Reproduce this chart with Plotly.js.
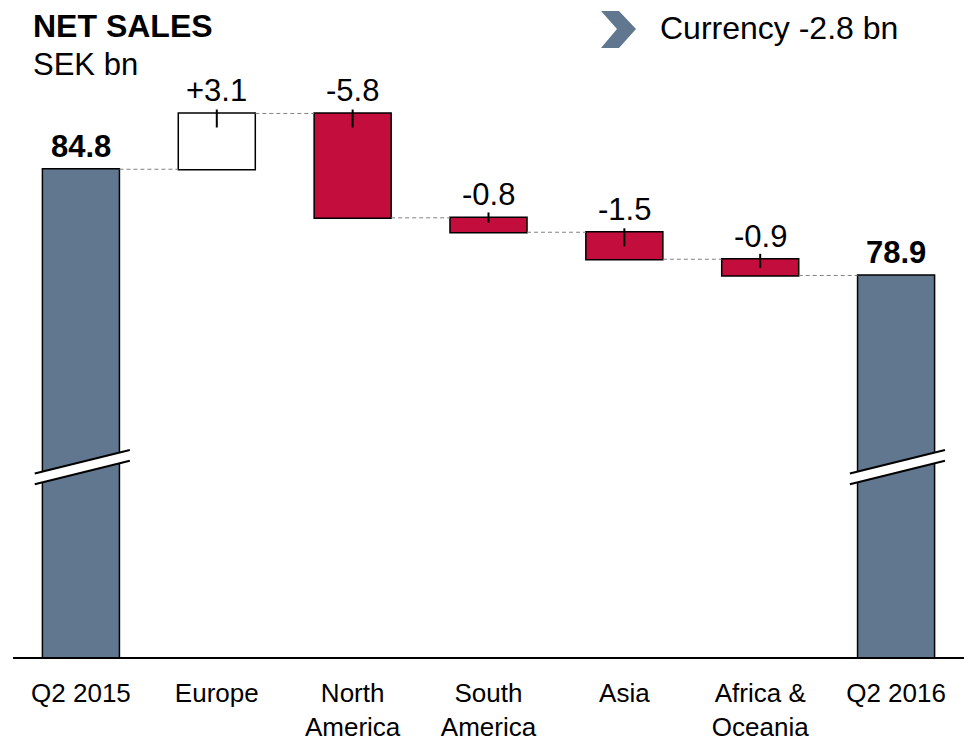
<!DOCTYPE html>
<html>
<head>
<meta charset="utf-8">
<script src="https://cdn.plot.ly/plotly-3.0.1.min.js"></script>
<style>html,body{margin:0;padding:0;background:#fff;}#chart{width:970px;height:743px;}</style>
</head>
<body>
<div id="chart"></div>
<script>
// ---- data ----
const categories = ['Q2 2015', 'Europe', 'North<br>America', 'South<br>America', 'Asia', 'Africa &<br>Oceania', 'Q2 2016'];
const values = [84.8, 3.1, -5.8, -0.8, -1.5, -0.9, 78.9];
const measures = ['absolute', 'relative', 'relative', 'relative', 'relative', 'relative', 'total'];
const currencyNote = 'Currency -2.8 bn';
// leader tick extents (style) for the change bars
const leaderAbove = [0, 0.22, 0.22, 0.3, 0.22, 0.3, 0];
const leaderBelow = [0, 0.78, 0.78, 0.27, 0.78, 0.48, 0];

const SLATE = '#61778f', RED = '#c20d3d';
const FONT = 'Liberation Sans, Arial, sans-serif';

// tops of bars and labels, derived from values
let run = 0; const tops = []; const labels = [];
values.forEach((v, i) => {
  if (measures[i] === 'absolute') { run = v; tops.push(v); labels.push('<b>' + v.toFixed(1) + '</b>'); }
  else if (measures[i] === 'total') { tops.push(run); labels.push('<b>' + run.toFixed(1) + '</b>'); }
  else { const prev = run; run = run + v; tops.push(Math.max(prev, run)); labels.push((v > 0 ? '+' : '') + v.toFixed(1)); }
});

const wf = {
  type: 'waterfall',
  x: categories,
  y: values,
  measure: measures,
  increasing: { marker: { color: '#ffffff', line: { color: '#000', width: 1.5 } } },
  decreasing: { marker: { color: RED, line: { color: '#000', width: 1.5 } } },
  totals: { marker: { color: SLATE, line: { color: '#000', width: 1.5 } } },
  connector: { mode: 'between', line: { color: '#808080', width: 1, dash: '4px,3px' } },
  textinfo: 'none',
  hoverinfo: 'skip',
  cliponaxis: false
};

const leaders = {
  type: 'scatter',
  mode: 'markers',
  x: categories,
  y: tops,
  marker: { size: 1, opacity: 0 },
  error_y: { type: 'data', symmetric: false, array: leaderAbove, arrayminus: leaderBelow, width: 0, thickness: 2, color: '#000' },
  hoverinfo: 'skip',
  cliponaxis: false
};

const valueAnns = categories.map((c, i) => ({
  xref: 'x', yref: 'y', x: c, y: tops[i], yanchor: 'middle', yshift: 23,
  showarrow: false, text: labels[i], font: { family: FONT, size: 31, color: '#000' }
}));

// axis-break marks
const breakShapes = [];
[0, 6].forEach(i => {
  const xl = i - 0.34, xr = i + 0.36;
  breakShapes.push({ type: 'path', xref: 'x', yref: 'y', path: `M ${xl},67.9 L ${xr},69.2 L ${xr},68.6 L ${xl},67.3 Z`, fillcolor: '#fff', line: { width: 0 } });
  breakShapes.push({ type: 'line', xref: 'x', yref: 'y', x0: xl, y0: 67.9, x1: xr, y1: 69.2, line: { color: '#000', width: 2 } });
  breakShapes.push({ type: 'line', xref: 'x', yref: 'y', x0: xl, y0: 67.3, x1: xr, y1: 68.6, line: { color: '#000', width: 2 } });
});
// chevron
breakShapes.push({ type: 'path', xref: 'paper', yref: 'paper', layer: 'above',
  path: 'M 0.6183,1.0821 L 0.6372,1.0821 L 0.6551,1.0519 L 0.6372,1.0201 L 0.6183,1.0201 L 0.6351,1.0519 Z',
  fillcolor: SLATE, line: { width: 0 } });

const layout = {
  width: 970, height: 743,
  margin: { l: 13, r: 6, t: 60, b: 86 },
  paper_bgcolor: '#fff', plot_bgcolor: '#fff',
  showlegend: false,
  waterfallgap: 0.433,
  font: { family: FONT, color: '#000' },
  xaxis: {
    type: 'category', showline: true, linecolor: '#000', linewidth: 2,
    showgrid: false, zeroline: false, ticks: '', ticklabelstandoff: 12,
    tickfont: { family: FONT, size: 26, color: '#000' }, fixedrange: true
  },
  yaxis: { visible: false, range: [57.7, 90.87], showgrid: false, zeroline: false, fixedrange: true },
  shapes: breakShapes,
  annotations: valueAnns.concat([
    { xref: 'paper', yref: 'paper', x: 0.019, y: 1.057, xanchor: 'left', yanchor: 'middle', showarrow: false, text: '<b>NET SALES</b>', font: { family: FONT, size: 32, color: '#000' } },
    { xref: 'paper', yref: 'paper', x: 0.019, y: 0.992, xanchor: 'left', yanchor: 'middle', showarrow: false, text: 'SEK bn', font: { family: FONT, size: 31, color: '#000' } },
    { xref: 'paper', yref: 'paper', x: 0.678, y: 1.054, xanchor: 'left', yanchor: 'middle', showarrow: false, text: currencyNote, font: { family: FONT, size: 32, color: '#000' } }
  ])
};

Plotly.newPlot('chart', [wf, leaders], layout, { displayModeBar: false, staticPlot: true });
</script>
</body>
</html>
